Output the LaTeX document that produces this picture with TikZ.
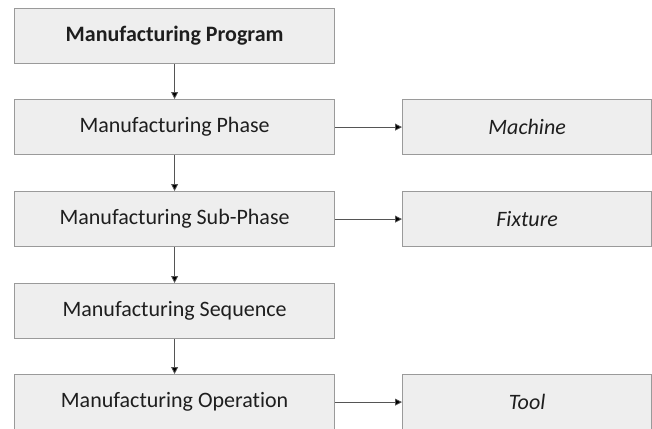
\documentclass[tikz,border=0pt]{standalone}
\usepackage{fontspec}
\setmainfont[Ligatures=NoCommon]{Carlito}
\usetikzlibrary{arrows.meta}
\definecolor{boxfill}{HTML}{EEEEEE}
\definecolor{boxline}{HTML}{9A9A9A}
\definecolor{arrline}{HTML}{555555}
\definecolor{txt}{HTML}{1E1E1E}
\tikzset{
  box/.style={draw=boxline, line width=1.2pt, fill=boxfill, anchor=north west,
    inner sep=0pt, text=txt, font=\fontsize{22}{26}\selectfont},
  leftbox/.style={box, minimum width=320pt, minimum height=55pt},
  rightbox/.style={box, minimum width=249pt, minimum height=55pt, font=\fontsize{22}{26}\selectfont\itshape},
  conn/.style={draw=arrline, line width=0.8pt, -{Triangle[width=7pt,length=7pt,fill=black]}}
}
\begin{document}
\begin{tikzpicture}[x=1pt,y=-1pt]
\useasboundingbox (0,0) rectangle (652,428);
\clip (0,0) rectangle (652,428);
\node[leftbox, font=\fontsize{22}{26}\selectfont\bfseries] (prog) at (14,8) {Manufacturing Program};
\node[leftbox] (phase) at (14,99) {Manufacturing Phase};
\node[leftbox] (sub) at (14,191) {Manufacturing Sub-Phase};
\node[leftbox] (seq) at (14,283) {Manufacturing Sequence};
\node[leftbox] (op) at (14,374) {Manufacturing Operation};
\node[rightbox] (mach) at (402,99) {Machine};
\node[rightbox] (fix) at (402,191) {Fixture};
\node[rightbox] (tool) at (402,374) {Tool};
\draw[conn] (prog) -- (phase);
\draw[conn] (phase) -- (sub);
\draw[conn] (sub) -- (seq);
\draw[conn] (seq) -- (op);
\draw[conn] (phase) -- (mach);
\draw[conn] (sub) -- (fix);
\draw[conn] (op) -- (tool);
\end{tikzpicture}
\end{document}
